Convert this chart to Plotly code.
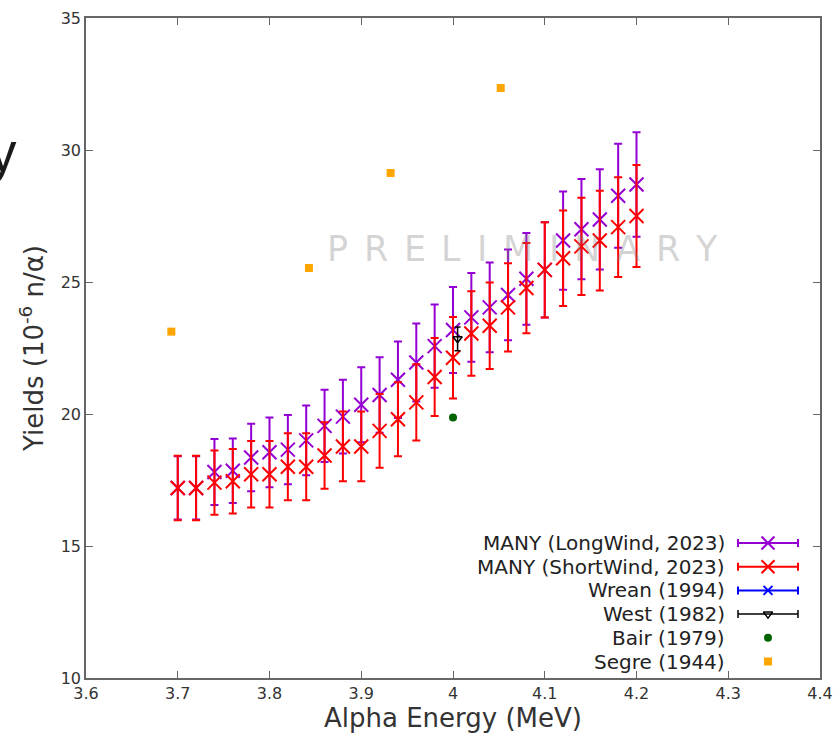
import plotly.graph_objects as go

# ---------------- data ----------------
ENERGY = [3.70, 3.72, 3.74, 3.76, 3.78, 3.80, 3.82, 3.84, 3.86, 3.88, 3.90, 3.92, 3.94,
          3.96, 3.98, 4.00, 4.02, 4.04, 4.06, 4.08, 4.10, 4.12, 4.14, 4.16, 4.18, 4.20]
LONG_Y = [17.20, 17.20, 17.80, 17.85, 18.35, 18.55, 18.65, 19.00, 19.55, 19.90, 20.35, 20.72, 21.30,
          21.95, 22.57, 23.18, 23.66, 24.04, 24.51, 25.12, 25.46, 26.57, 27.00, 27.37, 28.27, 28.69]
LONG_ERR = [1.20, 1.20, 1.25, 1.22, 1.28, 1.32, 1.31, 1.32, 1.37, 1.40, 1.42, 1.43, 1.45,
            1.48, 1.58, 1.63, 1.68, 1.70, 1.72, 1.74, 1.80, 1.86, 1.90, 1.90, 1.97, 1.98]
SHORT_Y = [17.20, 17.20, 17.40, 17.45, 17.72, 17.72, 18.00, 18.00, 18.43, 18.77, 18.77, 19.36, 19.80,
           20.44, 21.40, 22.13, 23.05, 23.34, 24.04, 24.77, 25.46, 25.90, 26.35, 26.57, 27.08, 27.50]
SHORT_ERR = [1.22, 1.22, 1.22, 1.22, 1.26, 1.26, 1.27, 1.27, 1.26, 1.32, 1.32, 1.40, 1.40,
             1.44, 1.48, 1.54, 1.60, 1.64, 1.67, 1.71, 1.80, 1.81, 1.84, 1.89, 1.89, 1.93]
WREAN_E = []
WREAN_Y = []
WEST_E = [4.005]
WEST_Y = [22.85]
WEST_ERR = [0.45]
BAIR_E = [4.00]
BAIR_Y = [19.87]
SEGRE_E = [3.693, 3.843, 3.932, 4.052]
SEGRE_Y = [23.12, 25.53, 29.13, 32.35]

X_TICKS = [3.6, 3.7, 3.8, 3.9, 4.0, 4.1, 4.2, 4.3, 4.4]
Y_TICKS = [10, 15, 20, 25, 30, 35]

LEGEND_NAMES = ["MANY (LongWind, 2023)", "MANY (ShortWind, 2023)", "Wrean (1994)",
                "West (1982)", "Bair (1979)", "Segre (1944)"]
WATERMARK = "PRELIMINARY"

# ---------------- styles ----------------
PURPLE = "#9400d3"
RED = "#ff0000"
BLUE = "#0000ff"
BLACK = "#000000"
GREEN = "#006400"
ORANGE = "#ffa500"
AXIS = "#666666"
TXT = "#333333"
FONT = "DejaVu Sans"

W, H = 838, 735
ML, MR, MT, MB = 86, 18, 18, 57
PX_L, PX_R = ML, W - MR
PX_T, PX_B = MT, H - MB


def px_to_paper_x(px):
    return (px - PX_L) / (PX_R - PX_L)


def px_to_paper_y(py):
    return (PX_B - py) / (PX_B - PX_T)


fig = go.Figure()

fig.add_trace(go.Scatter(
    x=ENERGY, y=LONG_Y, mode="markers", name=LEGEND_NAMES[0], showlegend=False,
    marker=dict(symbol="x-thin", size=14, color=PURPLE, line=dict(width=2, color=PURPLE)),
    error_y=dict(type="data", array=LONG_ERR, color=PURPLE, thickness=2, width=4)))
fig.add_trace(go.Scatter(
    x=ENERGY, y=SHORT_Y, mode="markers", name=LEGEND_NAMES[1], showlegend=False,
    marker=dict(symbol="x-thin", size=14, color=RED, line=dict(width=2, color=RED)),
    error_y=dict(type="data", array=SHORT_ERR, color=RED, thickness=2, width=4)))
fig.add_trace(go.Scatter(
    x=WREAN_E, y=WREAN_Y, mode="markers", name=LEGEND_NAMES[2], showlegend=False,
    marker=dict(symbol="x-thin", size=9, color=BLUE, line=dict(width=2, color=BLUE))))
fig.add_trace(go.Scatter(
    x=WEST_E, y=WEST_Y, mode="markers", name=LEGEND_NAMES[3], showlegend=False,
    marker=dict(symbol="triangle-down-open", size=8, color=BLACK, line=dict(width=1.5, color=BLACK)),
    error_y=dict(type="data", array=WEST_ERR, color=BLACK, thickness=1.5, width=3)))
fig.add_trace(go.Scatter(
    x=BAIR_E, y=BAIR_Y, mode="markers", name=LEGEND_NAMES[4], showlegend=False,
    marker=dict(symbol="circle", size=8, color=GREEN)))
fig.add_trace(go.Scatter(
    x=SEGRE_E, y=SEGRE_Y, mode="markers", name=LEGEND_NAMES[5], showlegend=False,
    marker=dict(symbol="square", size=8, color=ORANGE)))

# ---------- gnuplot-style key (text on the left, sample on the right) ----------
KEY_TOP = 543
KEY_STEP = 23.7
KEY_TEXT_RIGHT = 727
KEY_SAMPLE_CX = 768
KEY_SAMPLE_HALF = 30
key_styles = [
    dict(symbol="x-thin", size=13, color=PURPLE, err=True, lw=2),
    dict(symbol="x-thin", size=13, color=RED, err=True, lw=2),
    dict(symbol="x-thin", size=9, color=BLUE, err=True, lw=2),
    dict(symbol="triangle-down-open", size=8, color=BLACK, err=True, lw=1.5),
    dict(symbol="circle", size=8, color=GREEN, err=False, lw=0),
    dict(symbol="square", size=8, color=ORANGE, err=False, lw=0),
]
annotations = []
for i, (name, st) in enumerate(zip(LEGEND_NAMES, key_styles)):
    ry = KEY_TOP + i * KEY_STEP
    tr = dict(x=[KEY_SAMPLE_CX], y=[ry], mode="markers", xaxis="x2", yaxis="y2",
              showlegend=False, hoverinfo="skip",
              marker=dict(symbol=st["symbol"], size=st["size"], color=st["color"],
                          line=dict(width=st["lw"], color=st["color"])))
    if st["err"]:
        tr["error_x"] = dict(type="constant", value=KEY_SAMPLE_HALF, color=st["color"],
                             thickness=st["lw"], width=4)
    fig.add_trace(go.Scatter(**tr))
    annotations.append(dict(x=KEY_TEXT_RIGHT, y=ry, xref="x2", yref="y2", text=name,
                            showarrow=False, xanchor="right", yanchor="middle",
                            font=dict(family=FONT, size=20, color="#222222")))

# ---------- PRELIMINARY watermark ----------
DJ_W = {"P": .603, "R": .695, "E": .632, "L": .557, "I": .295, "M": .863,
        "N": .748, "A": .684, "Y": .611}
WM_SIZE = 35
WM_LEFT, WM_RIGHT, WM_CY = 327, 717, 249
widths = [DJ_W[c] * WM_SIZE for c in WATERMARK]
gap = (WM_RIGHT - WM_LEFT - sum(widths)) / (len(WATERMARK) - 1)
cx = WM_LEFT
for c, w in zip(WATERMARK, widths):
    annotations.append(dict(x=cx + w / 2, y=WM_CY, xref="x2", yref="y2", text=c,
                            showarrow=False, xanchor="center", yanchor="middle",
                            font=dict(family=FONT, size=WM_SIZE,
                                      color="rgba(130,130,130,0.34)")))
    cx += w + gap

# ---------- cropped slide text at top-left ----------
annotations.append(dict(x=px_to_paper_x(19), y=px_to_paper_y(152), xref="paper", yref="paper",
                        text="y", showarrow=False, xanchor="right", yanchor="middle",
                        font=dict(family="Liberation Sans", size=55, color="#1a1a1a")))

axis_common = dict(showgrid=False, zeroline=False, showline=True, linecolor=AXIS, linewidth=1.5,
                   ticks="inside", ticklen=7, tickwidth=1.2, tickcolor=AXIS, mirror="ticks",
                   tickfont=dict(family=FONT, size=16, color=TXT))

fig.update_layout(
    width=W, height=H,
    margin=dict(l=ML, r=MR, t=MT, b=MB, pad=0),
    paper_bgcolor="white", plot_bgcolor="white",
    showlegend=False,
    xaxis=dict(range=[3.6, 4.4], tickvals=X_TICKS, ticktext=[f"{v:g}" for v in X_TICKS],
               title=dict(text="Alpha Energy (MeV)", standoff=5,
                          font=dict(family=FONT, size=26, color=TXT)),
               automargin=False, **axis_common),
    yaxis=dict(range=[10, 35], tickvals=Y_TICKS, ticktext=[str(v) for v in Y_TICKS],
               title=dict(text="Yields (10<sup>-6</sup> n/α)", standoff=10,
                          font=dict(family=FONT, size=26, color=TXT)),
               automargin=False, **axis_common),
    xaxis2=dict(overlaying="x", range=[PX_L, PX_R], visible=False, fixedrange=True),
    yaxis2=dict(overlaying="y", range=[PX_B, PX_T], visible=False, fixedrange=True),
    annotations=annotations,
)

fig.write_html("out.html")
